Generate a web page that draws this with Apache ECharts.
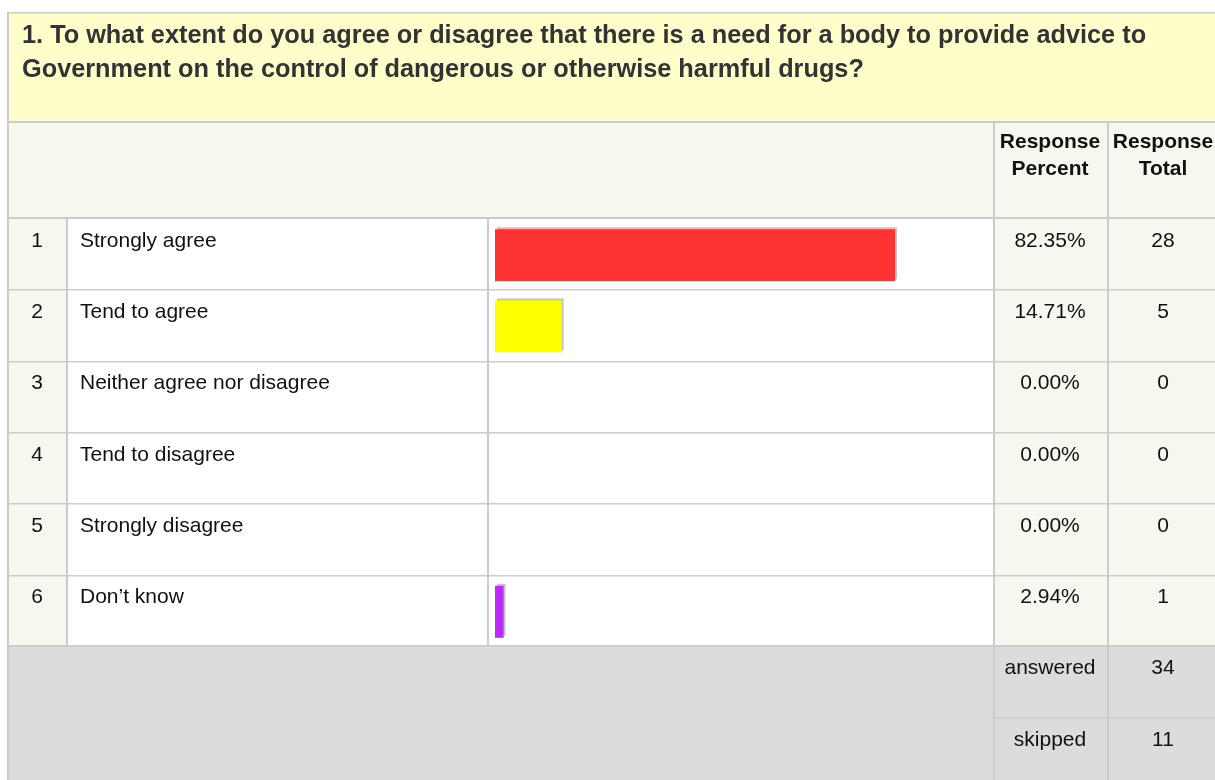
<!DOCTYPE html>
<html><head><meta charset="utf-8">
<script src="https://cdn.jsdelivr.net/npm/echarts@6/dist/echarts.min.js"></script>
<style>html,body{margin:0;padding:0;background:#fff}#c{width:1215px;height:780px}</style>
</head><body><div id="c"></div>
<script>
// ---- data ----
const questionLines = [
  '1. To what extent do you agree or disagree that there is a need for a body to provide advice to',
  'Government on the control of dangerous or otherwise harmful drugs?'
];
const headerPercent = ['Response', 'Percent'];
const headerTotal = ['Response', 'Total'];
const rowNumbers = ['1', '2', '3', '4', '5', '6'];
const categories = ['Strongly agree', 'Tend to agree', 'Neither agree nor disagree', 'Tend to disagree', 'Strongly disagree', 'Don\u2019t know'];
const percents = [82.35, 14.71, 0, 0, 0, 2.94];
const percentLabels = ['82.35%', '14.71%', '0.00%', '0.00%', '0.00%', '2.94%'];
const totals = [28, 5, 0, 0, 0, 1];
const barColors = ['#ff3333', '#ffff00', '#cccccc', '#cccccc', '#cccccc', '#bb2bff'];
const summaryLabels = ['answered', 'skipped'];
const summaryValues = [34, 11];

// ---- layout ----
const T = { left: 7, top: 12, titleB: 122, headB: 218, rowsB: 646, bottom: 780, right: 1220 };
const C = [7, 66, 487, 993, 1107, 1220];
const rowH = (T.rowsB - T.headB) / categories.length;
const footH = 72;
const FONT = '"Liberation Sans", Arial, sans-serif';
const G = [];
function rect(x, y, w, h, fill, z) { G.push({ type: 'rect', silent: true, z: z || 0, shape: { x, y, width: w, height: h }, style: { fill } }); }
function text(t, x, y, size, bold, color, align) {
  G.push({ type: 'text', silent: true, z: 5, x, y,
    style: { text: t, font: (bold ? 'bold ' : '') + size + 'px ' + FONT, fill: color,
      align: align, verticalAlign: 'middle', textAlign: align, textVerticalAlign: 'middle' } });
}
const cream = '#f7f7ef', line = '#cccccc';
// backgrounds
rect(T.left, T.top, T.right - T.left, T.titleB - T.top, '#ffffcc');
rect(T.left, T.titleB, T.right - T.left, T.headB - T.titleB, cream);
rect(C[0], T.headB, C[1] - C[0], T.rowsB - T.headB, cream);
rect(C[1], T.headB, C[3] - C[1], T.rowsB - T.headB, '#ffffff');
rect(C[3], T.headB, C[5] - C[3], T.rowsB - T.headB, cream);
rect(T.left, T.rowsB, T.right - T.left, T.bottom - T.rowsB, '#dcdcdc');
// borders
rect(T.left, T.top, T.right - T.left, 1.5, line, 1);
rect(T.left, T.top, 2, T.bottom - T.top, line, 1);
rect(T.left, T.titleB - 1, T.right - T.left, 2, line, 1);
rect(T.left, T.headB - 1, T.right - T.left, 2, line, 1);
for (let i = 1; i < categories.length; i++) rect(T.left, Math.round(T.headB + i * rowH), T.right - T.left, 1.5, line, 1);
rect(T.left, T.rowsB - 1, T.right - T.left, 2, line, 1);
rect(C[1], T.headB, 2, T.rowsB - T.headB, line, 1);
rect(C[2], T.headB, 2, T.rowsB - T.headB, line, 1);
rect(C[3], T.titleB, 2, T.bottom - T.titleB, line, 1);
rect(C[4], T.titleB, 2, T.bottom - T.titleB, line, 1);
rect(C[3], T.rowsB + footH - 1, T.right - C[3], 1.5, line, 1);

// texts
questionLines.forEach((s, i) => text(s, 22, 36 + i * 34.5, 25.3, true, '#333333', 'left'));
const pc = 1050, tc = 1163;
headerPercent.forEach((s, i) => text(s, pc, 142 + i * 27.5, 21, true, '#111111', 'center'));
headerTotal.forEach((s, i) => text(s, tc, 142 + i * 27.5, 21, true, '#111111', 'center'));
categories.forEach((s, i) => {
  const y = T.headB + i * rowH + 23;
  text(rowNumbers[i], 37, y, 21, false, '#111111', 'center');
  text(s, 80, y, 21, false, '#111111', 'left');
  text(percentLabels[i], pc, y, 21, false, '#111111', 'center');
  text(String(totals[i]), tc, y, 21, false, '#111111', 'center');
});
summaryLabels.forEach((s, i) => {
  const y = T.rowsB + i * footH + 22;
  text(s, pc, y, 21, false, '#111111', 'center');
  text(String(summaryValues[i]), tc, y, 21, false, '#111111', 'center');
});

const chart = echarts.init(document.getElementById('c'), null, { renderer: 'canvas' });
chart.setOption({
  animation: false,
  graphic: { elements: G },
  grid: { left: 495, top: T.headB + 1.5, width: 492, height: T.rowsB - T.headB, containLabel: false },
  xAxis: { type: 'value', min: 1.2, max: 101, show: false },
  yAxis: { type: 'category', data: categories, inverse: true, show: false },
  series: [{
    type: 'bar', z: 10, clip: true, barWidth: 52, silent: true,
    data: percents.map((v, i) => ({ value: v, itemStyle: { color: barColors[i] } })),
    itemStyle: { shadowColor: '#c4c4c4', shadowBlur: 0, shadowOffsetX: 2, shadowOffsetY: -2 }
  }]
});
</script></body></html>
